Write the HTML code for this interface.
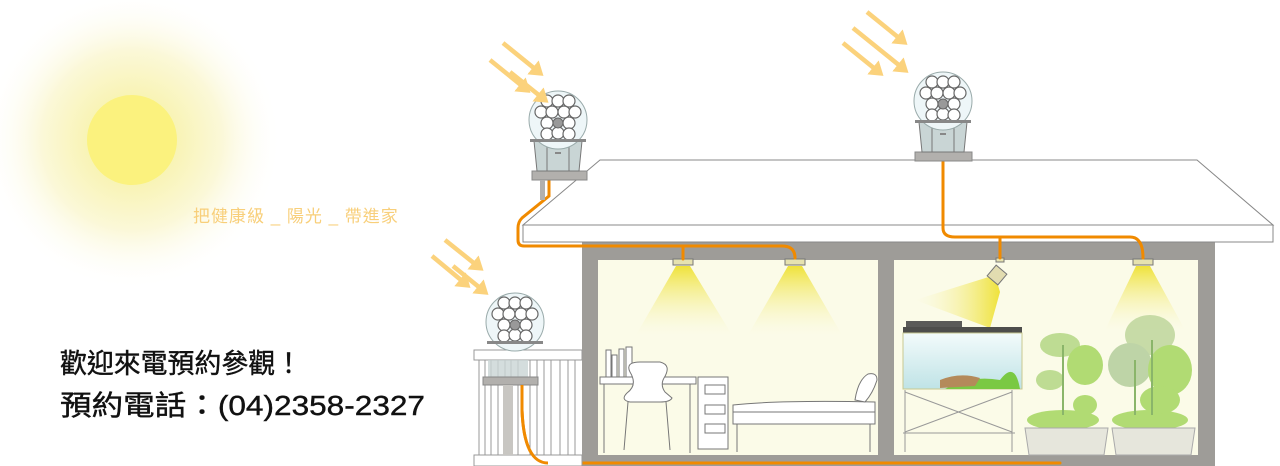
<!DOCTYPE html>
<html><head><meta charset="utf-8"><style>
html,body{margin:0;padding:0;background:#fff;}
body{width:1280px;height:466px;overflow:hidden;position:relative;}
svg{position:absolute;left:0;top:0;}
.t{font-family:"Liberation Sans","Noto Sans CJK TC",sans-serif;}
</style></head><body>
<svg width="1280" height="466" viewBox="0 0 1280 466" xmlns="http://www.w3.org/2000/svg">
<defs>
<radialGradient id="glow" cx="132" cy="140" r="150" gradientUnits="userSpaceOnUse">
<stop offset="0.25" stop-color="#f8f3b0"/><stop offset="0.6" stop-color="#fbf8d8"/><stop offset="1" stop-color="#ffffff" stop-opacity="0"/></radialGradient>
<linearGradient id="cone" x1="0" y1="0" x2="0" y2="1"><stop offset="0" stop-color="#efe23a"/><stop offset="1" stop-color="#fbfbe8" stop-opacity="0.2"/></linearGradient>
<linearGradient id="cone2" x1="1" y1="0" x2="0" y2="0"><stop offset="0" stop-color="#efe23a"/><stop offset="1" stop-color="#fbfbe8" stop-opacity="0.2"/></linearGradient>
<linearGradient id="water" x1="0" y1="0" x2="0" y2="1"><stop offset="0" stop-color="#f3fbfb"/><stop offset="1" stop-color="#bfe3e6"/></linearGradient>
<marker id="ah" markerWidth="4" markerHeight="4" refX="2" refY="2" orient="auto" markerUnits="strokeWidth"><path d="M0,0 L3,2 L0,4 Z" fill="#fbd27c"/></marker>
<g id="dev">
<circle cx="0" cy="0" r="29" fill="#eef6f8" stroke="#9aa" stroke-width="1"/>
<g fill="#fff" stroke="#666" stroke-width="1.2">
<circle cx="-11" cy="-19" r="6"/><circle cx="0" cy="-19" r="6"/><circle cx="11" cy="-19" r="6"/>
<circle cx="-17" cy="-8" r="6"/><circle cx="-6" cy="-8" r="6"/><circle cx="6" cy="-8" r="6"/><circle cx="17" cy="-8" r="6"/>
<circle cx="-11" cy="3" r="6"/><circle cx="11" cy="3" r="6"/>
<circle cx="-11" cy="14" r="6"/><circle cx="0" cy="13" r="6"/><circle cx="11" cy="14" r="6"/>
</g>
<circle cx="0" cy="3" r="5" fill="#999" stroke="#666"/>
<rect x="-28" y="19" width="56" height="3" fill="#888"/>
</g>
<g id="base">
<path d="M-24,0 L24,0 L21,30 L-21,30 Z" fill="#c9d5d5" stroke="#777" stroke-width="1"/>
<rect x="-11" y="6" width="22" height="24" fill="#c9d5d5" stroke="#777" stroke-width="1"/>
<rect x="-3" y="11" width="6" height="2" fill="#888"/>
</g>
</defs>

<rect x="-30" y="-20" width="340" height="320" fill="url(#glow)"/>
<circle cx="132" cy="140" r="45" fill="#fbf27e"/>
<text x="193" y="222" class="t" font-size="17" fill="#f8cf7a" letter-spacing="1">把健康級 _ 陽光 _ 帶進家</text>

<rect x="582" y="240" width="633" height="226" fill="#9e9c98"/>
<rect x="598" y="260" width="280" height="195" fill="#fbfbe8"/>
<rect x="894" y="260" width="304" height="195" fill="#fbfbe8"/>

<path d="M600,160 L1197,160 L1273,225 L523,225 Z" fill="#fff" stroke="#888" stroke-width="1"/>
<rect x="523" y="225" width="750" height="17" fill="#fff" stroke="#888" stroke-width="1"/>

<path d="M676,266 L690,266 L732,335 L636,335 Z" fill="url(#cone)"/>
<path d="M788,266 L802,266 L842,335 L748,335 Z" fill="url(#cone)"/>
<path d="M1136,266 L1150,266 L1185,330 L1105,330 Z" fill="url(#cone)"/>
<path d="M995,275 L1000,292 L990,328 L915,300 Z" fill="url(#cone2)"/>

<rect x="673" y="259" width="20" height="6" fill="#e6e2b0" stroke="#777"/>
<rect x="785" y="259" width="20" height="6" fill="#e6e2b0" stroke="#777"/>
<rect x="1133" y="259" width="20" height="6" fill="#e6e2b0" stroke="#777"/>
<rect x="996" y="258" width="8" height="4" fill="#e6e2b0" stroke="#777"/>
<rect x="990" y="268" width="14" height="14" transform="rotate(40 997 275)" fill="#e2dcb0" stroke="#777"/>

<g fill="none" stroke="#f08a00" stroke-width="3" stroke-linecap="round">
<path d="M549,180 L549,196 L522,218 Q518,222 518,228 L518,240 Q518,246 524,246 L782,246 Q795,246 795,258"/>
<path d="M683,246 L683,259"/>
<path d="M943,162 L943,228 Q943,237 955,237 L1130,237 Q1143,237 1143,258"/>
<path d="M1000,237 L1000,258"/>
<path d="M522,385 L522,410 Q524,463 548,463 L1060,463"/>
</g>

<rect x="532" y="171" width="55" height="9" fill="#b2b0ad" stroke="#888"/>
<rect x="540" y="180" width="5" height="20" fill="#b2b0ad"/>
<use href="#base" x="558" y="141"/>
<use href="#dev" x="558" y="120"/>

<rect x="915" y="152" width="57" height="9" fill="#b2b0ad" stroke="#888"/>
<use href="#base" x="943" y="122"/>
<use href="#dev" x="943" y="101"/>

<g stroke="#999" stroke-width="1" fill="#fff">
<rect x="474" y="350" width="108" height="10"/>
<rect x="474" y="455" width="108" height="11"/>
<line x1="479" y1="360" x2="479" y2="455"/><line x1="485" y1="360" x2="485" y2="455"/>
<line x1="491" y1="360" x2="491" y2="455"/><line x1="498" y1="360" x2="498" y2="455"/>
<line x1="505" y1="360" x2="505" y2="455"/><line x1="511" y1="360" x2="511" y2="455"/>
<line x1="518" y1="360" x2="518" y2="455"/><line x1="530" y1="360" x2="530" y2="455"/>
<line x1="537" y1="360" x2="537" y2="455"/><line x1="544" y1="360" x2="544" y2="455"/>
<line x1="551" y1="360" x2="551" y2="455"/><line x1="560" y1="360" x2="560" y2="455"/>
<line x1="568" y1="360" x2="568" y2="455"/><line x1="575" y1="360" x2="575" y2="455"/>
</g>
<rect x="488" y="360" width="40" height="18" fill="#c9d5d5" opacity="0.8"/>
<rect x="483" y="377" width="55" height="8" fill="#b2b0ad" stroke="#888"/>
<rect x="503" y="385" width="10" height="70" fill="#c8c6c2"/>
<use href="#dev" x="515" y="322"/>
<path d="M522,385 L522,410 Q524,463 548,463" fill="none" stroke="#f08a00" stroke-width="3"/>

<g stroke="#fbd27c" stroke-width="4.5" marker-end="url(#ah)">
<line x1="503" y1="43" x2="540" y2="73"/>
<line x1="490" y1="60" x2="527" y2="90"/>
<line x1="510" y1="72" x2="545" y2="100"/>
<line x1="867" y1="12" x2="904" y2="42"/>
<line x1="853" y1="28" x2="905" y2="70"/>
<line x1="843" y1="43" x2="880" y2="73"/>
<line x1="445" y1="240" x2="480" y2="268"/>
<line x1="432" y1="256" x2="467" y2="285"/>
<line x1="453" y1="266" x2="485" y2="292"/>
</g>

<g stroke="#777" stroke-width="1" fill="#fff">
<rect x="606" y="350" width="5" height="30"/><rect x="612" y="355" width="5" height="25"/><rect x="619" y="349" width="5" height="31"/><rect x="626" y="347" width="6" height="33"/>
<rect x="600" y="377" width="96" height="7"/>
<line x1="604" y1="384" x2="604" y2="453"/><line x1="690" y1="384" x2="690" y2="453"/>
<path d="M630,372 Q625,362 640,362 L660,362 Q672,365 664,378 Q660,385 665,392 L672,398 Q670,402 660,402 L630,402 Q620,400 627,393 Q638,385 630,372 Z"/>
<line x1="628" y1="402" x2="624" y2="450"/><line x1="666" y1="402" x2="670" y2="450"/>
<rect x="698" y="377" width="30" height="72"/>
<rect x="705" y="385" width="20" height="9"/><rect x="705" y="405" width="20" height="9"/><rect x="705" y="424" width="20" height="9"/>
<path d="M733,405 Q780,400 875,402 L875,412 L733,412 Z"/>
<rect x="733" y="412" width="142" height="12"/>
<line x1="737" y1="424" x2="737" y2="452"/><line x1="870" y1="424" x2="870" y2="452"/>
<path d="M855,400 Q858,380 868,374 Q877,372 877,380 Q873,393 865,402 Z"/>
</g>

<rect x="906" y="321" width="56" height="9" fill="#5a5a58"/>
<rect x="903" y="327" width="119" height="6" fill="#4d4d4b"/>
<rect x="903" y="333" width="119" height="56" fill="url(#water)" stroke="#c8c890"/>
<path d="M945,389 Q970,375 1000,380 Q1015,360 1020,389 Z" fill="#7ac943"/>
<path d="M940,380 Q960,372 980,378 L975,386 L940,388 Z" fill="#b48a5a"/>
<g stroke="#999" stroke-width="1" fill="none">
<line x1="905" y1="390" x2="905" y2="452"/><line x1="1012" y1="390" x2="1012" y2="452"/>
<line x1="905" y1="392" x2="1012" y2="432"/><line x1="905" y1="432" x2="1012" y2="392"/>
<line x1="903" y1="433" x2="1015" y2="433"/>
</g>

<g fill="#a9d867" opacity="0.9">
<ellipse cx="1063" cy="420" rx="36" ry="10"/><ellipse cx="1150" cy="420" rx="38" ry="10"/>
<ellipse cx="1060" cy="345" rx="20" ry="12" fill="#b8d98a"/><ellipse cx="1085" cy="365" rx="18" ry="20"/>
<ellipse cx="1050" cy="380" rx="14" ry="10" fill="#b8d98a"/><ellipse cx="1085" cy="405" rx="12" ry="10"/>
<ellipse cx="1150" cy="335" rx="25" ry="20" fill="#c2d8a0"/><ellipse cx="1130" cy="365" rx="22" ry="22" fill="#b8d0a0"/>
<ellipse cx="1170" cy="370" rx="22" ry="25"/><ellipse cx="1160" cy="400" rx="20" ry="14"/>
</g>
<g stroke="#8ab56a" stroke-width="2"><line x1="1063" y1="345" x2="1063" y2="415"/><line x1="1152" y1="340" x2="1152" y2="415"/><line x1="1135" y1="360" x2="1135" y2="415"/></g>
<path d="M1025,428 L1108,428 L1104,455 L1029,455 Z" fill="#e6e6dc" stroke="#aaa"/>
<path d="M1112,428 L1195,428 L1191,455 L1116,455 Z" fill="#e6e6dc" stroke="#aaa"/>

<text x="60" y="373" class="t" font-size="27" fill="#111" stroke="#111" stroke-width="0.4" textLength="242" lengthAdjust="spacingAndGlyphs">歡迎來電預約參觀！</text>
<text x="60" y="415" class="t" font-size="28" fill="#111" stroke="#111" stroke-width="0.4" textLength="365" lengthAdjust="spacingAndGlyphs">預約電話：(04)2358-2327</text>
</svg>
</body></html>
